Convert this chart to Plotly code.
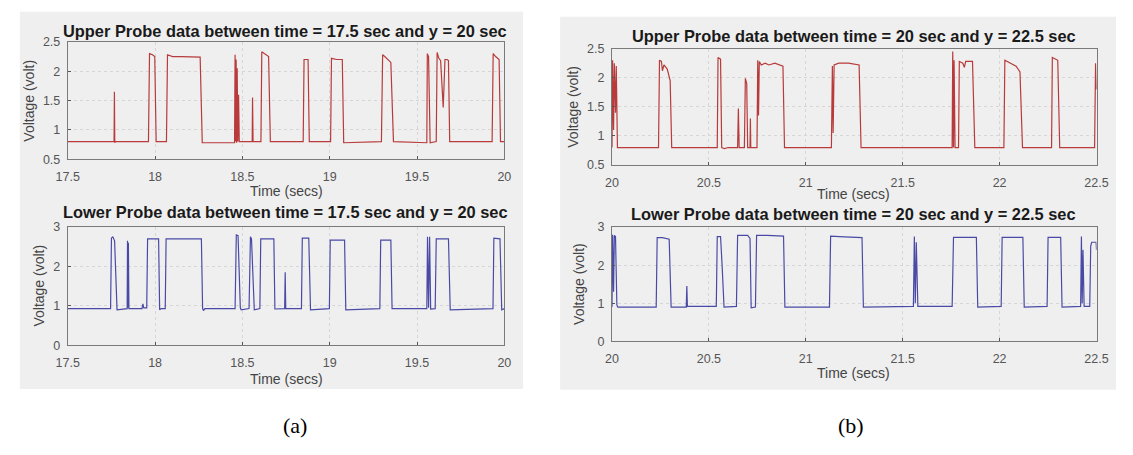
import plotly.graph_objects as go

# ---------------- data ----------------
ua_t = [17.50, 17.765, 17.767, 17.769, 17.771, 17.773,
        17.962, 17.968, 17.985, 17.998, 18.006,
        18.065, 18.071, 18.10, 18.15, 18.20, 18.258, 18.270,
        18.455, 18.458, 18.461, 18.464, 18.467, 18.470, 18.474, 18.478, 18.482,
        18.556, 18.558, 18.561,
        18.606, 18.611, 18.635, 18.650, 18.660,
        18.848, 18.853, 18.876, 18.883,
        19.005, 19.010, 19.040, 19.072, 19.080,
        19.296, 19.303, 19.315, 19.330, 19.350, 19.365,
        19.556, 19.559, 19.566, 19.575,
        19.610, 19.615, 19.625, 19.635, 19.650, 19.660, 19.672, 19.680, 19.687,
        19.930, 19.936, 19.950, 19.970, 19.978, 20.00]
ua_v = [0.80, 0.80, 1.65, 0.78, 1.45, 0.80,
        0.80, 2.30, 2.28, 2.25, 0.80,
        0.80, 2.28, 2.25, 2.25, 2.24, 2.24, 0.78,
        0.78, 2.28, 0.80, 2.20, 0.78, 2.05, 0.80, 1.60, 0.80,
        0.80, 1.55, 0.80,
        0.80, 2.33, 2.28, 2.25, 0.80,
        0.80, 2.20, 2.20, 0.80,
        0.80, 2.22, 2.20, 2.20, 0.78,
        0.80, 2.28, 2.25, 2.20, 2.15, 0.80,
        0.78, 2.30, 2.25, 0.78,
        0.80, 2.32, 2.22, 2.18, 1.38, 2.20, 2.20, 2.18, 0.80,
        0.80, 2.30, 2.25, 2.20, 0.80, 0.80]

la_t = [17.50, 17.745, 17.750, 17.758, 17.768, 17.775, 17.782,
        17.840, 17.842, 17.845, 17.847, 17.850,
        17.925, 17.930, 17.935,
        17.952, 17.957, 18.020, 18.026, 18.035,
        18.058, 18.063, 18.150, 18.265, 18.272, 18.277, 18.285,
        18.458, 18.465, 18.475, 18.488, 18.493,
        18.538, 18.546, 18.552, 18.568,
        18.600, 18.605, 18.680, 18.686,
        18.742, 18.745, 18.748,
        18.838, 18.843, 18.880, 18.890,
        18.998, 19.003, 19.085, 19.092,
        19.287, 19.292, 19.350, 19.357,
        19.556, 19.560, 19.566, 19.572, 19.578,
        19.604, 19.610, 19.680, 19.690,
        19.935, 19.940, 19.975, 19.985, 20.00]
la_v = [0.93, 0.93, 2.72, 2.75, 2.65, 1.40, 0.90,
        0.93, 2.65, 0.95, 2.60, 0.93,
        0.93, 1.05, 0.95,
        0.95, 2.70, 2.70, 0.90, 0.93,
        0.93, 2.70, 2.70, 2.70, 0.93, 0.88, 0.93,
        0.93, 2.80, 2.78, 0.95, 0.90,
        0.93, 2.75, 2.70, 0.90,
        0.93, 2.70, 2.70, 0.92,
        0.93, 1.85, 0.93,
        0.93, 2.72, 2.72, 0.90,
        0.93, 2.67, 2.67, 0.90,
        0.93, 2.67, 2.67, 0.93,
        0.93, 2.75, 0.95, 2.75, 0.92,
        0.93, 2.70, 2.70, 0.90,
        0.93, 2.72, 2.70, 0.90, 0.93]

ub_t = [20.000, 20.003, 20.008, 20.012, 20.018, 20.022, 20.028,
        20.240, 20.245, 20.255, 20.260, 20.268, 20.285, 20.300, 20.308,
        20.543, 20.547, 20.560, 20.566, 20.580, 20.600,
        20.648, 20.652, 20.656,
        20.683, 20.688, 20.695, 20.700,
        20.712, 20.714, 20.716,
        20.748, 20.752, 20.756, 20.760, 20.770, 20.790, 20.810, 20.840, 20.870, 20.882, 20.890,
        21.132, 21.137, 21.141, 21.146, 21.170, 21.220, 21.275, 21.285,
        21.755, 21.758, 21.762, 21.765, 21.770,
        21.788, 21.792, 21.810, 21.818, 21.825, 21.860, 21.872,
        22.022, 22.027, 22.060, 22.085, 22.105, 22.118,
        22.268, 22.272, 22.300, 22.310,
        22.490, 22.495, 22.500]
ub_v = [0.80, 2.30, 1.10, 2.25, 1.40, 2.20, 0.80,
        0.80, 2.30, 2.28, 2.12, 2.22, 2.15, 1.95, 0.80,
        0.80, 2.35, 2.32, 0.80, 0.78, 0.80,
        0.80, 1.47, 0.80,
        0.80, 1.99, 1.90, 0.80,
        0.80, 1.30, 0.80,
        0.80, 2.30, 1.35, 2.28, 2.22, 2.25, 2.22, 2.25, 2.22, 2.20, 0.80,
        0.80, 2.20, 1.05, 2.22, 2.25, 2.25, 2.22, 0.80,
        0.80, 2.45, 0.80, 2.30, 0.80,
        0.80, 2.28, 2.25, 2.18, 2.28, 2.28, 0.80,
        0.80, 2.30, 2.25, 2.20, 2.10, 0.80,
        0.80, 2.35, 2.30, 0.80,
        0.80, 2.25, 1.80]

lb_t = [20.000, 20.003, 20.008, 20.012, 20.018, 20.025, 20.030,
        20.228, 20.233, 20.260, 20.295, 20.305,
        20.383, 20.386, 20.389,
        20.538, 20.543, 20.560, 20.568, 20.578,
        20.642, 20.648, 20.700, 20.712, 20.718,
        20.740, 20.746, 20.800, 20.885, 20.892,
        21.122, 21.128, 21.200, 21.290, 21.297,
        21.555, 21.560, 21.565, 21.570, 21.578,
        21.755, 21.762, 21.880, 21.887,
        22.008, 22.013, 22.120, 22.127,
        22.245, 22.250, 22.315, 22.322,
        22.418, 22.422, 22.426, 22.430, 22.436,
        22.465, 22.470, 22.475, 22.498, 22.500]
lb_v = [0.90, 2.80, 1.30, 2.78, 2.75, 0.95, 0.90,
        0.90, 2.72, 2.72, 2.68, 0.90,
        0.90, 1.45, 0.92,
        0.92, 2.75, 2.75, 2.00, 0.90,
        0.92, 2.78, 2.78, 2.70, 0.88,
        0.90, 2.78, 2.78, 2.76, 0.90,
        0.90, 2.76, 2.74, 2.72, 0.90,
        0.92, 2.75, 1.00, 2.60, 0.92,
        0.92, 2.73, 2.73, 0.90,
        0.92, 2.73, 2.73, 0.90,
        0.92, 2.73, 2.73, 0.90,
        0.92, 2.75, 1.00, 2.40, 0.92,
        0.92, 2.50, 2.60, 2.60, 2.40]

titles = ["Upper Probe data between time = 17.5 sec and y = 20 sec",
          "Lower Probe data between time = 17.5 sec and y = 20 sec",
          "Upper Probe data between time = 20 sec and y = 22.5 sec",
          "Lower Probe data between time = 20 sec and y = 22.5 sec"]
xlabel = "Time (secs)"
ylabel = "Voltage (volt)"
panel_labels = ["(a)", "(b)"]

# ---------------- layout helpers ----------------
W, H = 1133, 455
def fx(px): return px / W
def fy(py): return 1 - py / H

RED = "#b83a3a"
BLUE = "#4a4aa6"

fig = go.Figure()
series = [(ua_t, ua_v, RED, "x", "y"),
          (la_t, la_v, BLUE, "x2", "y2"),
          (ub_t, ub_v, RED, "x3", "y3"),
          (lb_t, lb_v, BLUE, "x4", "y4")]
for t, v, c, xa, ya in series:
    fig.add_trace(go.Scatter(x=t, y=v, mode="lines", line=dict(color=c, width=1.2),
                             xaxis=xa, yaxis=ya, showlegend=False, hoverinfo="skip"))

# pixel boxes of plotting areas: (x0, x1, y0, y1)
boxes = [(57, 503, 36, 157), (57, 503, 227, 349),
         (613, 1108, 43, 163), (613, 1108, 227, 345)]
xranges = [[17.5, 20], [17.5, 20], [20, 22.5], [20, 22.5]]
yranges = [[0.5, 2.5], [0, 3], [0.5, 2.5], [0, 3]]
ydt = [0.5, 1, 0.5, 1]

tickfont = dict(family="Liberation Sans, Arial", size=12.5, color="#555555")
layout = dict(width=W, height=H, margin=dict(l=0, r=0, t=0, b=0),
              paper_bgcolor="white", plot_bgcolor="white", showlegend=False)
for i, (x0, x1, y0, y1) in enumerate(boxes):
    sfx = "" if i == 0 else str(i + 1)
    layout["xaxis" + sfx] = dict(
        domain=[fx(x0), fx(x1)], range=xranges[i], dtick=0.5, tick0=17.5,
        anchor="y" + sfx, showline=True, mirror=True, linecolor="#7a7a7a", linewidth=1,
        ticks="inside", ticklen=3, tickcolor="#555555", showgrid=True,
        gridcolor="#d6d6d6", griddash="dot", gridwidth=1, zeroline=False,
        tickfont=tickfont, ticklabelstandoff=6, fixedrange=True)
    layout["yaxis" + sfx] = dict(
        domain=[fy(y1), fy(y0)], range=yranges[i], dtick=ydt[i], tick0=0,
        anchor="x" + sfx, showline=True, mirror=True, linecolor="#7a7a7a", linewidth=1,
        ticks="inside", ticklen=3, tickcolor="#555555", showgrid=True,
        gridcolor="#d6d6d6", griddash="dot", gridwidth=1, zeroline=False,
        tickfont=tickfont, ticklabelstandoff=4, fixedrange=True)
fig.update_layout(**layout)

# panel backgrounds
shapes = [dict(type="rect", xref="paper", yref="paper", x0=fx(8), x1=fx(522),
               y0=fy(394), y1=fy(5), fillcolor="#efefef", line=dict(width=0), layer="below"),
          dict(type="rect", xref="paper", yref="paper", x0=fx(560), x1=fx(1128),
               y0=fy(395), y1=fy(10), fillcolor="#efefef", line=dict(width=0), layer="below")]
fig.update_layout(shapes=shapes)

ann = []
title_pos = [(279, 25), (279, 212), (860, 30), (860, 214)]
for txt, (px, py) in zip(titles, title_pos):
    ann.append(dict(text="<b>" + txt + "</b>", x=fx(px), y=fy(py), xref="paper", yref="paper",
                    showarrow=False, xanchor="center", yanchor="middle",
                    font=dict(family="Liberation Sans, Arial", size=16.4, color="#1a1a1a")))
xl_pos = [(280, 190), (280, 384), (860, 193), (860, 378)]
for px, py in xl_pos:
    ann.append(dict(text=xlabel, x=fx(px), y=fy(py), xref="paper", yref="paper",
                    showarrow=False, xanchor="center", yanchor="middle",
                    font=dict(family="Liberation Sans, Arial", size=14, color="#444444")))
yl_pos = [(17, 97), (28, 287), (573, 103), (579, 286)]
for px, py in yl_pos:
    ann.append(dict(text=ylabel, x=fx(px), y=fy(py), xref="paper", yref="paper",
                    showarrow=False, xanchor="center", yanchor="middle", textangle=-90,
                    font=dict(family="Liberation Sans, Arial", size=14, color="#444444")))
for txt, px in zip(panel_labels, [289, 857]):
    ann.append(dict(text=txt, x=fx(px), y=fy(432), xref="paper", yref="paper",
                    showarrow=False, xanchor="center", yanchor="middle",
                    font=dict(family="Liberation Serif, Times New Roman", size=22, color="#000000")))
fig.update_layout(annotations=ann)

fig.write_html("out.html")
